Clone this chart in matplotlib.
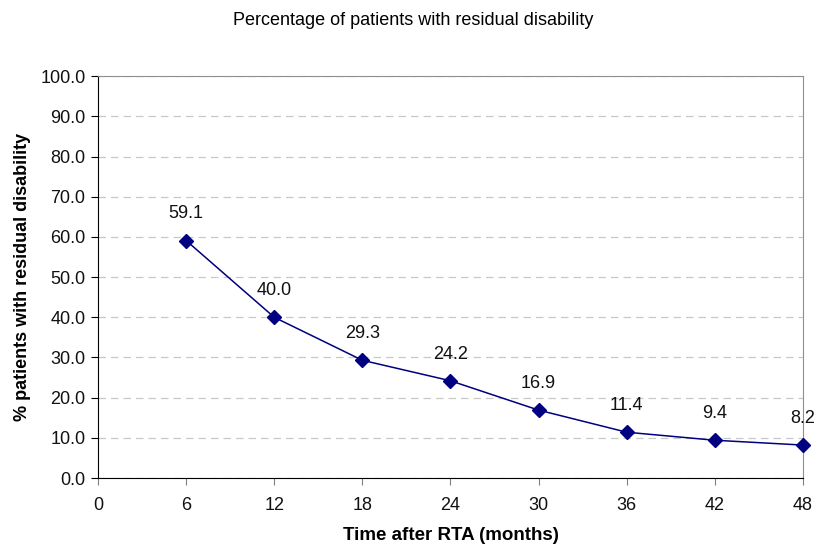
import numpy as np
import matplotlib.pyplot as plt

plt.rcParams['font.family'] = ['Liberation Sans', 'DejaVu Sans']

months = [6, 12, 18, 24, 30, 36, 42, 48]
pct = [59.1, 40.0, 29.3, 24.2, 16.9, 11.4, 9.4, 8.2]
xticks = [0, 6, 12, 18, 24, 30, 36, 42, 48]
yticks = np.arange(0, 101, 10)

fig = plt.figure(figsize=(8.14, 5.46), dpi=100)
ax = fig.add_axes([0.1204, 0.1245, 0.866, 0.736])

navy = '#000080'
ax.plot(months, pct, color=navy, lw=1.1, marker='D', ms=7.5,
        mfc=navy, mec=navy, clip_on=False, zorder=3)
for x, y in zip(months, pct):
    ax.annotate(f'{y:.1f}', (x, y), xytext=(0, 13), textcoords='offset points',
                ha='center', va='bottom', fontsize=13, color='#111111')

ax.set_xlim(0, 48)
ax.set_ylim(0, 100)
ax.set_xticks(xticks)
ax.set_yticks(yticks)
ax.set_yticklabels([f'{v:.1f}' for v in yticks])
ax.tick_params(labelsize=13, length=5, color='#808080', labelcolor='#111111')
ax.tick_params(axis='y', color='black', pad=4)
ax.tick_params(axis='x', pad=9)

ax.grid(axis='y', color='#c8c8c8', ls=(0, (6, 4)), lw=0.9)
ax.set_axisbelow(True)
for s in ['top', 'right']:
    ax.spines[s].set_color('#909090')
for s in ['left', 'bottom']:
    ax.spines[s].set_color('black')

ax.set_xlabel('Time after RTA (months)', fontsize=13.5, fontweight='bold', labelpad=9)
ax.set_ylabel('% patients with residual disability', fontsize=13, fontweight='bold', labelpad=7)
fig.text(0.508, 0.962, 'Percentage of patients with residual disability',
         ha='center', va='center', fontsize=13)

fig.savefig('out.png', dpi=100)
